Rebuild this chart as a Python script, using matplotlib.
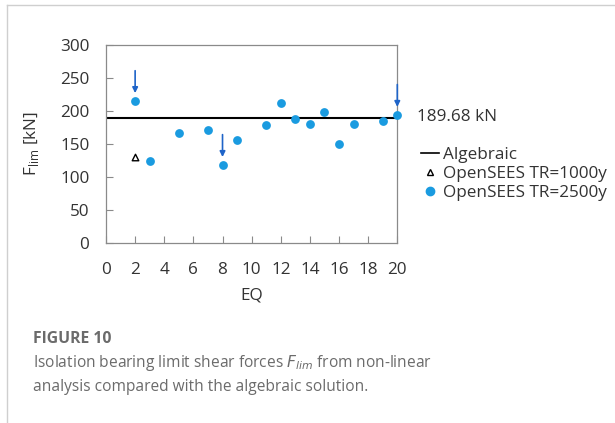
#!/usr/bin/env python

# Limit shear force of the isolation bearings: OpenSEES runs vs algebraic value.

import matplotlib
matplotlib.use('Agg')
import matplotlib.pyplot as plt
from matplotlib.lines import Line2D

plt.rcParams['font.family'] = ['Open Sans', 'DejaVu Sans']

# Data
eq_2500 = [2, 3, 5, 7, 8, 9, 11, 12, 13, 14, 15, 16, 17, 19, 20]
flim_2500 = [215, 124, 167, 171, 118, 156, 179, 212, 187, 180, 198, 150, 180, 185, 194]
eq_1000 = [2]
flim_1000 = [130]
flim_algebraic = 189.68
arrow_eq = [2, 8, 20]          # highlighted records (blue arrows)
x_ticks = list(range(0, 21, 2))
y_ticks = list(range(0, 301, 50))

dot_col = '#1a9be0'
arrow_col = '#1f64c8'
frame_col = '#8a8a8a'
text_col = '#333333'
caption_col = '#6b6b6b'
fs = 12.3

fig = plt.figure(figsize=(6.15, 4.23), dpi=100, facecolor='white')

# Page borders of the journal layout
fig.add_artist(Line2D([7/615, 1], [1-5/423, 1-5/423], color='#cfcfcf', lw=1.0))
fig.add_artist(Line2D([7/615, 7/615], [0, 1-5/423], color='#cfcfcf', lw=1.0))

ax = fig.add_axes([106/615, 1-242.7/423, 291.3/615, 197.7/423])
for s in ax.spines.values():
    s.set_color(frame_col)
    s.set_linewidth(0.9)

ax.set_xlim(0, 20)
ax.set_ylim(0, 300)
ax.set_xticks(x_ticks)
ax.set_yticks(y_ticks)
ax.tick_params(direction='in', length=5, color=frame_col, width=0.8,
               labelsize=fs, labelcolor=text_col)
ax.tick_params(axis='y', pad=12)
ax.tick_params(axis='x', pad=14)

ax.axhline(flim_algebraic, color='black', lw=1.5, zorder=2)
ax.scatter(eq_1000, flim_1000, marker='^', s=22, facecolor='white',
           edgecolor='black', linewidth=1.0, zorder=3)
ax.scatter(eq_2500, flim_2500, marker='o', s=40, color=dot_col,
           linewidth=0, zorder=3, clip_on=False)

for e in arrow_eq:
    v = flim_2500[eq_2500.index(e)]
    ax.annotate('', xy=(e, v + 12), xytext=(e, v + 46),
                arrowprops=dict(arrowstyle='-|>', color=arrow_col, lw=1.2,
                                mutation_scale=8, shrinkA=0, shrinkB=0),
                annotation_clip=False)

ax.set_xlabel('EQ', fontsize=fs, color=text_col, labelpad=7)
ax.set_ylabel(r'F$_{\mathregular{lim}}$ [kN]', fontsize=fs, color=text_col, labelpad=14)

fig.text(417/615, 1-117/423, '%.2f kN' % flim_algebraic, fontsize=fs,
         color=text_col, va='center', ha='left')

handles = [Line2D([], [], color='black', lw=1.2),
           Line2D([], [], marker='^', ls='', markersize=5, markerfacecolor='white',
                  markeredgecolor='black', markeredgewidth=1.0),
           Line2D([], [], marker='o', ls='', markersize=6, color=dot_col)]
labels = ['Algebraic', 'OpenSEES TR=1000y', 'OpenSEES TR=2500y']
fig.legend(handles, labels, loc='upper left', bbox_to_anchor=(412/615, 1-138/423),
           frameon=False, fontsize=fs, handlelength=1.1, handletextpad=0.2,
           labelspacing=0.2, borderpad=0, labelcolor=text_col)

# Caption
fig.text(33/615, 1-339/423, 'FIGURE 10', fontsize=11.3, fontweight='bold',
         color=caption_col, va='center')
fig.text(33/615, 1-363/423,
         r'Isolation bearing limit shear forces $F_{lim}$ from non-linear',
         fontsize=11.2, color=caption_col, va='center')
fig.text(33/615, 1-387/423, 'analysis compared with the algebraic solution.',
         fontsize=11.2, color=caption_col, va='center')

fig.savefig('out.png', dpi=100)
